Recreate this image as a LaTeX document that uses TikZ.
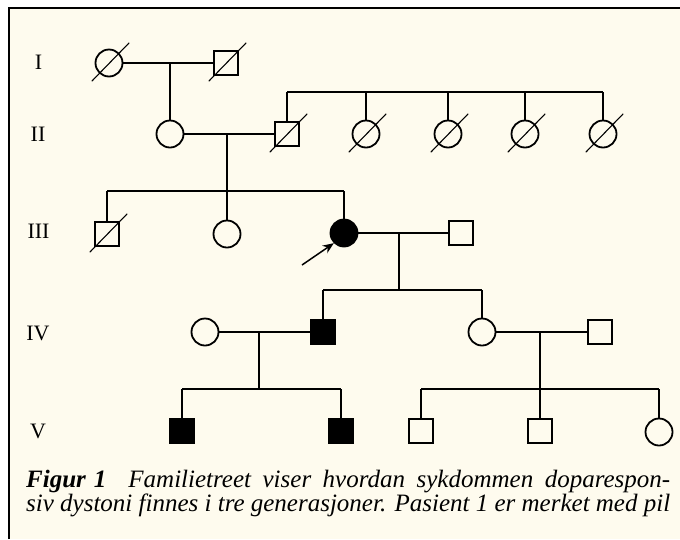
\documentclass[tikz,border=0pt]{standalone}
\usepackage{fontspec}
\setmainfont{Liberation Serif}
\usetikzlibrary{arrows.meta,calc}
\definecolor{bgcream}{RGB}{254,251,238}
\tikzset{
  x=1pt,y=-1pt,
  female/.style={circle,draw,line width=1.8pt,minimum size=27pt,inner sep=0pt,fill=bgcream},
  male/.style={rectangle,draw,line width=1.8pt,minimum size=24.5pt,inner sep=0pt,fill=bgcream},
  affected/.style={fill=black},
  link/.style={line width=1.1pt},
  dead/.style={line width=1.1pt,line cap=round},
  genlabel/.style={font=\fontsize{22}{24}\selectfont,anchor=base,inner sep=0pt},
  captext/.style={anchor=base west,inner sep=0pt,font=\fontsize{25}{27}\selectfont\itshape},
}
\newcommand{\deceased}[1]{\draw[dead] ($(#1)+(-17,18)$) -- ($(#1)+(20,-20)$);}
\begin{document}
\begin{tikzpicture}
\useasboundingbox (0,0) rectangle (680,539);
\fill[white] (0,0) rectangle (680,539);
\fill[bgcream] (9,8) rectangle (680,539);
\draw[line width=1.5pt] (9,539) -- (9,8) -- (680,8);

% generation labels
\node[genlabel] (gI) at (38.5,69) {I};
\node[genlabel] (gII) at (38,141) {II};
\node[genlabel] (gIII) at (38.5,238) {III};
\node[genlabel] (gIV) at (38,340) {IV};
\node[genlabel] (gV) at (38,438) {V};

% coordinates of connector junctions
\coordinate (mI) at (170,63);
\coordinate (mII) at (227,134);
\coordinate (sIIIa) at (107,191);
\coordinate (sIIIb) at (344,191);
\coordinate (sIIa) at (287,92);
\coordinate (sIIb) at (603,92);
\coordinate (mIII) at (399,233);
\coordinate (sIVm) at (399,290);
\coordinate (sIVa) at (323,290);
\coordinate (sIVb) at (482,290);
\coordinate (mIVa) at (259,332);
\coordinate (sVam) at (259,389);
\coordinate (sVa1) at (182,389);
\coordinate (sVa2) at (341,389);
\coordinate (mIVb) at (540,332);
\coordinate (sVb1) at (421,389);
\coordinate (sVb2) at (659,389);

% generation I
\node[female] (i1) at (109,63) {};
\node[male] (i2) at (226,63) {};
% generation II
\node[female] (ii1) at (170,134) {};
\node[male] (ii2) at (287,134) {};
\node[female] (ii3) at (366,134) {};
\node[female] (ii4) at (448,134) {};
\node[female] (ii5) at (525,134) {};
\node[female] (ii6) at (603,134) {};
% generation III
\node[male] (iii1) at (107,234) {};
\node[female] (iii2) at (227,234) {};
\node[female,affected] (iii3) at (344,233) {};
\node[male] (iii4) at (461,233) {};
% generation IV
\node[female] (iv1) at (205,332) {};
\node[male,affected] (iv2) at (323,332) {};
\node[female] (iv3) at (482,332) {};
\node[male] (iv4) at (600,332) {};
% generation V
\node[male,affected] (v1) at (182,431) {};
\node[male,affected] (v2) at (341,431) {};
\node[male] (v3) at (421,431) {};
\node[male] (v4) at (540,431) {};
\node[female] (v5) at (659,432) {};

% marriages
\draw[link] (i1) -- (i2);
\draw[link] (ii1) -- (ii2);
\draw[link] (iii3) -- (iii4);
\draw[link] (iv1) -- (iv2);
\draw[link] (iv3) -- (iv4);

% descents and sibships
\draw[link] (mI) -- (ii1.north);
\draw[link] (mII) -- (iii2.north);
\draw[link] (sIIIa) -- (sIIIb);
\draw[link] (sIIIa) -- (iii1.north);
\draw[link] (sIIIb) -- (iii3.north);
\draw[link] (sIIa) -- (sIIb);
\draw[link] (sIIa) -- (ii2.north);
\draw[link] (ii3.north |- sIIa) -- (ii3.north);
\draw[link] (ii4.north |- sIIa) -- (ii4.north);
\draw[link] (ii5.north |- sIIa) -- (ii5.north);
\draw[link] (sIIb) -- (ii6.north);
\draw[link] (mIII) -- (sIVm);
\draw[link] (sIVa) -- (sIVb);
\draw[link] (sIVa) -- (iv2.north);
\draw[link] (sIVb) -- (iv3.north);
\draw[link] (mIVa) -- (sVam);
\draw[link] (sVa1) -- (sVa2);
\draw[link] (sVa1) -- (v1.north);
\draw[link] (sVa2) -- (v2.north);
\draw[link] (mIVb) -- (v4.north);
\draw[link] (sVb1) -- (sVb2);
\draw[link] (sVb1) -- (v3.north);
\draw[link] (sVb2) -- (v5.north);

% deceased slashes
\deceased{i1}
\deceased{i2}
\deceased{ii2}
\deceased{ii3}
\deceased{ii4}
\deceased{ii5}
\deceased{ii6}
\deceased{iii1}

% arrow to proband
\coordinate (arrT) at (302,265);
\draw[line width=1.5pt,-{Stealth[length=11pt,width=9pt]}] (arrT) -- (iii3.south west);

% caption
\node[captext] (cap1) at (26,487)
  {\makebox[644pt][s]{\textbf{Figur\hspace{8pt}1}\hspace{22pt}Familietreet viser hvordan sykdommen doparespon-}};
\node[captext] (cap2) at (26,511)
  {\makebox[644pt][s]{siv dystoni finnes i tre generasjoner. Pasient 1 er merket med pil}};
\end{tikzpicture}
\end{document}
